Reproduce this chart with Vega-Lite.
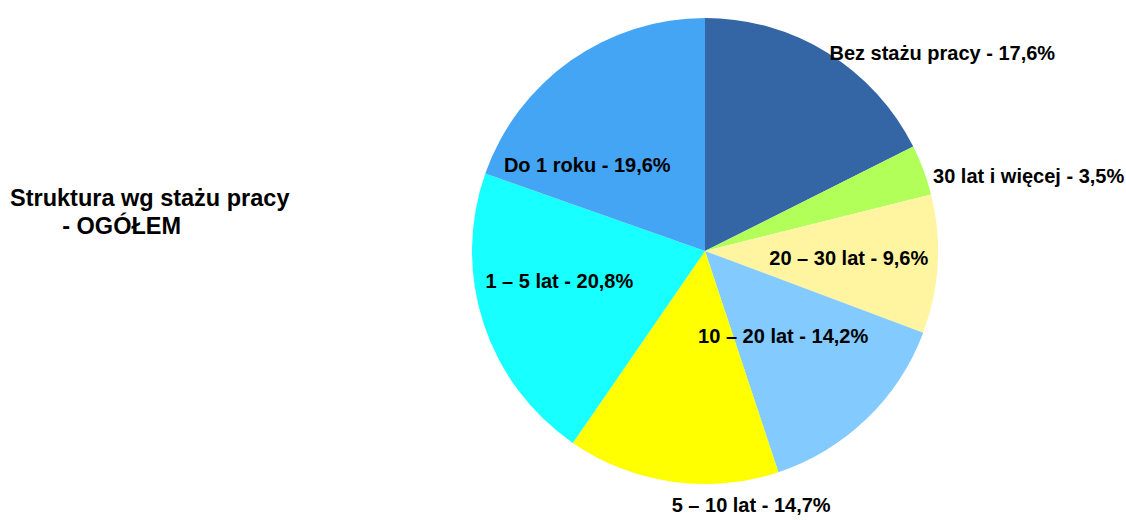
{
  "$schema": "https://vega.github.io/schema/vega-lite/v6.json",
  "width": 842,
  "height": 502,
  "autosize": {"type": "none"},
  "padding": {"left": 284, "top": 0, "right": 0, "bottom": 18},
  "background": "white",
  "config": {"view": {"stroke": null}},
  "title": {
    "text": ["Struktura wg stażu pracy", "\u200b\u00a0\u00a0\u00a0\u00a0\u00a0\u00a0\u00a0\u00a0- OGÓŁEM"],
    "anchor": "start",
    "frame": "group",
    "orient": "top",
    "align": "left",
    "baseline": "alphabetic",
    "dx": -274,
    "dy": 261,
    "font": "Liberation Sans",
    "fontSize": 23.5,
    "fontWeight": "bold",
    "lineHeight": 28,
    "color": "black"
  },
  "data": {
    "values": [
      {"i": 1, "k": "Bez stażu pracy", "v": 17.6, "label": "Bez stażu pracy - 17,6%"},
      {"i": 2, "k": "30 lat i więcej", "v": 3.5, "label": "30 lat i więcej - 3,5%"},
      {"i": 3, "k": "20 – 30 lat", "v": 9.6, "label": "20 – 30 lat - 9,6%"},
      {"i": 4, "k": "10 – 20 lat", "v": 14.2, "label": "10 – 20 lat - 14,2%"},
      {"i": 5, "k": "5 – 10 lat", "v": 14.7, "label": "5 – 10 lat - 14,7%"},
      {"i": 6, "k": "1 – 5 lat", "v": 20.8, "label": "1 – 5 lat - 20,8%"},
      {"i": 7, "k": "Do 1 roku", "v": 19.6, "label": "Do 1 roku - 19,6%"}
    ]
  },
  "encoding": {
    "theta": {"field": "v", "type": "quantitative", "stack": true},
    "order": {"field": "i", "type": "quantitative"}
  },
  "layer": [
    {
      "mark": {"type": "arc", "outerRadius": 233},
      "encoding": {
        "color": {
          "field": "k",
          "type": "nominal",
          "legend": null,
          "scale": {
            "domain": ["Bez stażu pracy", "30 lat i więcej", "20 – 30 lat", "10 – 20 lat", "5 – 10 lat", "1 – 5 lat", "Do 1 roku"],
            "range": ["#3465a4", "#b2ff5a", "#fff5a0", "#83caff", "#ffff00", "#18ffff", "#45a5f5"]
          }
        }
      }
    },
    {
      "mark": {"type": "text", "radius": 237, "dy": 5, "align": "left", "baseline": "middle", "font": "Liberation Sans", "fontWeight": "bold", "fontSize": 20, "color": "black"},
      "encoding": {"text": {"condition": {"test": "datum.i == 1", "field": "label"}, "value": ""}}
    },
    {
      "mark": {"type": "text", "radius": 240, "dx": 3, "dy": 9, "align": "left", "baseline": "middle", "font": "Liberation Sans", "fontWeight": "bold", "fontSize": 20, "color": "black"},
      "encoding": {"text": {"condition": {"test": "datum.i == 2", "field": "label"}, "value": ""}}
    },
    {
      "mark": {"type": "text", "radius": 144, "align": "center", "baseline": "middle", "font": "Liberation Sans", "fontWeight": "bold", "fontSize": 20, "color": "black"},
      "encoding": {"text": {"condition": {"test": "datum.i == 3", "field": "label"}, "value": ""}}
    },
    {
      "mark": {"type": "text", "radius": 117, "dx": -3, "dy": 2, "align": "center", "baseline": "middle", "font": "Liberation Sans", "fontWeight": "bold", "fontSize": 20, "color": "black"},
      "encoding": {"text": {"condition": {"test": "datum.i == 4", "field": "label"}, "value": ""}}
    },
    {
      "mark": {"type": "text", "radius": 258, "dx": 3, "align": "left", "baseline": "middle", "font": "Liberation Sans", "fontWeight": "bold", "fontSize": 20, "color": "black"},
      "encoding": {"text": {"condition": {"test": "datum.i == 5", "field": "label"}, "value": ""}}
    },
    {
      "mark": {"type": "text", "radius": 150, "dx": -3, "dy": -15, "align": "center", "baseline": "middle", "font": "Liberation Sans", "fontWeight": "bold", "fontSize": 20, "color": "black"},
      "encoding": {"text": {"condition": {"test": "datum.i == 6", "field": "label"}, "value": ""}}
    },
    {
      "mark": {"type": "text", "radius": 145, "dx": -34, "dy": 33, "align": "center", "baseline": "middle", "font": "Liberation Sans", "fontWeight": "bold", "fontSize": 20, "color": "black"},
      "encoding": {"text": {"condition": {"test": "datum.i == 7", "field": "label"}, "value": ""}}
    }
  ]
}
